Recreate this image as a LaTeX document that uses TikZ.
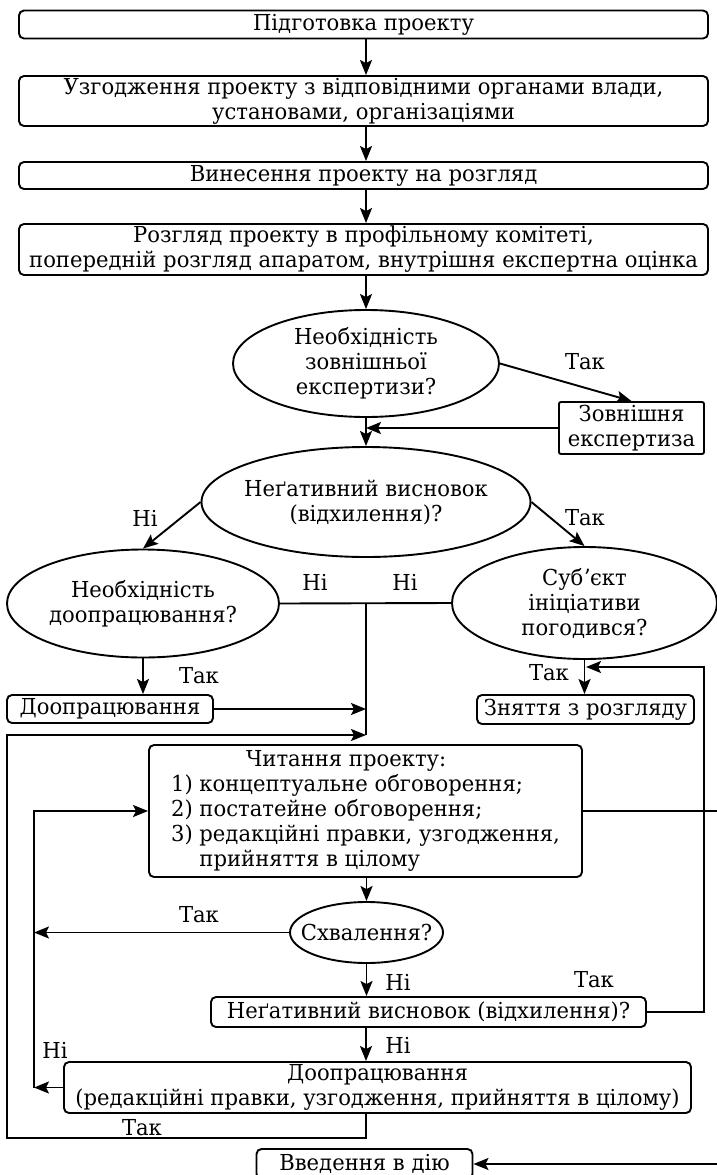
\documentclass[tikz,border=0pt]{standalone}
\usepackage{fontspec}
\setmainfont[FakeStretch=0.96]{DejaVu Serif}
\usetikzlibrary{arrows.meta,shapes.geometric}
\begin{document}
\begin{tikzpicture}[x=1pt,y=-1pt,
  line width=1.9pt,
  >={Stealth[length=15pt,width=12pt,inset=3pt]},
  every node/.style={font=\fontsize{22}{25}\selectfont, inner sep=0pt},
  rbox/.style={draw, rounded corners=5pt, align=center},
  oval/.style={draw, ellipse, align=center, inner sep=-15pt},
  lbl/.style={inner sep=0pt}
]
\useasboundingbox (0,0) rectangle (717,1175);
\coordinate (cx) at (366,0);
\coordinate (lx) at (34,0);

% boxes
\node[rbox, minimum width=689pt, minimum height=28pt] (b1) at (363.5,24.5) {Підготовка проекту};
\node[rbox, minimum width=689pt, minimum height=50pt] (b2) at (363.5,101) {Узгодження проекту з відповідними органами влади,\\ установами, організаціями};
\node[rbox, minimum width=689pt, minimum height=27pt] (b3) at (363.5,175.5) {Винесення проекту на розгляд};
\node[rbox, minimum width=689pt, minimum height=51pt] (b4) at (363.5,249.5) {Розгляд проекту в профільному комітеті,\\ попередній розгляд апаратом, внутрішня експертна оцінка};

\node[oval, minimum width=266pt, minimum height=107pt] (e1) at (366,363.5) {Необхідність\\ зовнішньої\\ експертизи?};
\node[rbox, rounded corners=2pt, minimum width=145pt, minimum height=52pt] (z0) at (631.5,428) {Зовнішня\\ експертиза};
\node[oval, minimum width=329pt, minimum height=110pt] (e2) at (366,502) {Неґативний висновок\\ (відхилення)?};
\node[oval, minimum width=272pt, minimum height=108pt] (e3) at (143,603.5) {Необхідність\\ доопрацювання?};
\node[oval, minimum width=265pt, minimum height=112pt] (e4) at (584.5,603) {Субʼєкт\\ ініціативи\\ погодився?};
\node[rbox, minimum width=206pt, minimum height=28pt] (d1) at (110,709) {Доопрацювання};
\node[rbox, minimum width=217pt, minimum height=29pt] (z1) at (585.5,709.5) {Зняття з розгляду};
\node[draw, rounded corners=5pt, align=left, minimum width=433pt, minimum height=132pt] (r) at (365.5,811)
  {\hspace*{75pt}Читання проекту:\\ 1) концептуальне обговорення;\\ 2) постатейне обговорення;\\ 3) редакційні правки, узгодження,\\ \hphantom{3) }прийняття в цілому};
\node[oval, minimum width=153pt, minimum height=61pt] (s) at (366.5,932.5) {Схвалення?};
\node[rbox, minimum width=435pt, minimum height=30pt] (n2) at (428.5,1012) {Неґативний висновок (відхилення)?};
\node[rbox, minimum width=627pt, minimum height=51pt] (d2) at (377.5,1087.5) {Доопрацювання\\ (редакційні правки, узгодження, прийняття в цілому)};
\node[rbox, minimum width=216pt, minimum height=30pt] (vv) at (364.5,1164) {Введення в дію};

% labels
\node[lbl] (t1) at (585,362) {Так};
\node[lbl] (t2) at (145,518) {Ні};
\node[lbl] (t3) at (585,518) {Так};
\node[lbl] (t4) at (315,582) {Ні};
\node[lbl] (t5) at (405,582) {Ні};
\node[lbl] (t6) at (199,676) {Так};
\node[lbl] (t7) at (549,673) {Так};
\node[lbl] (t8) at (199,915) {Так};
\node[lbl] (t9) at (398,982) {Ні};
\node[lbl] (t10) at (594,980) {Так};
\node[lbl] (t11) at (398,1045) {Ні};
\node[lbl] (t12) at (55,1050) {Ні};
\node[lbl] (t13) at (142,1128) {Так};

% helper coordinates
\coordinate (j1) at (366,603.5);
\coordinate (lpA) at (366,1138);
\coordinate (lpB) at (7,1138);
\coordinate (lpC) at (7,735);
\coordinate (lpD) at (366,735);
\coordinate (rA) at (704,1012);
\coordinate (rB) at (704,667);
\coordinate (rC) at (586,667);
\coordinate (fA) at (725,811);
\coordinate (fB) at (725,1164);

% connectors
\draw[->] (b1.south -| cx) -- (b2.north -| cx);
\draw[->] (b2.south -| cx) -- (b3.north -| cx);
\draw[->] (b3.south -| cx) -- (b4.north -| cx);
\draw[->] (b4.south -| cx) -- (e1.north -| cx);
\draw[->] (e1.east) -- (z0.north);
\draw[->] (z0.west) -- (z0.west -| cx);
\draw[->] (e1.south) -- (e2.north);
\draw[->] (e2.west) -- (e3.north);
\draw[->] (e2.east) -- (e4.north);
\draw (e3.east) -- (e4.west);
\draw (j1) -- (lpD);
\draw[->] (e3.south) -- (e3.south |- d1.north);
\draw[->] (d1.east) -- (d1.east -| cx);
\draw[->] (d2.south -| cx) -- (lpA) -- (lpB) -- (lpC) -- (lpD);
\draw[->] (e4.south) -- (e4.south |- z1.north);
\draw[->] (n2.east) -- (rA) -- (rB) -- (rC);
\draw[->] (r.east) -- (fA) -- (fB) -- (vv.east);
\draw[->] (r.south -| s.north) -- (s.north);
\draw[->] (s.west) -- (s.west -| lx);
\draw[->] (d2.west) -- (d2.west -| lx);
\draw[->] (d2.west -| lx) -- (r.west -| lx) -- (r.west);
\draw[->] (s.south) -- (s.south |- n2.north);
\draw[->] (n2.south -| cx) -- (d2.north -| cx);
\end{tikzpicture}
\end{document}
